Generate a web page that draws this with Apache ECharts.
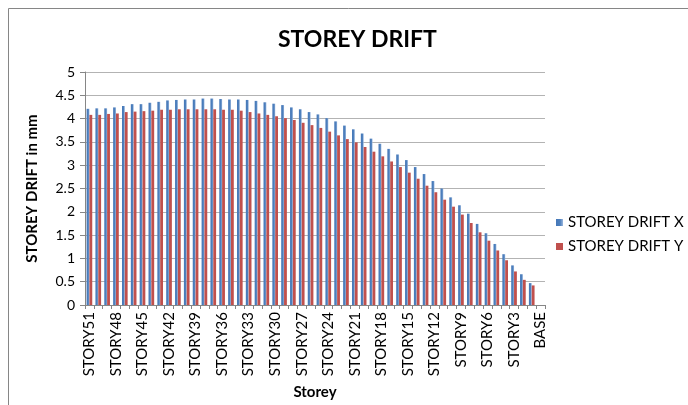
<!DOCTYPE html>
<html>
<head>
<meta charset="utf-8">
<script src="https://cdn.jsdelivr.net/npm/echarts@6/dist/echarts.min.js"></script>
<style>
	html, body { margin: 0; padding: 0; background: #fff; }
	#chart { width: 688px; height: 405px; }
</style>
</head>
<body>
<div id="chart"></div>
<script>
	// storeys, top to bottom
	const storeys = [
		'STORY51', 'STORY50', 'STORY49', 'STORY48', 'STORY47', 'STORY46', 'STORY45', 'STORY44', 'STORY43',
		'STORY42', 'STORY41', 'STORY40', 'STORY39', 'STORY38', 'STORY37', 'STORY36', 'STORY35', 'STORY34',
		'STORY33', 'STORY32', 'STORY31', 'STORY30', 'STORY29', 'STORY28', 'STORY27', 'STORY26', 'STORY25',
		'STORY24', 'STORY23', 'STORY22', 'STORY21', 'STORY20', 'STORY19', 'STORY18', 'STORY17', 'STORY16',
		'STORY15', 'STORY14', 'STORY13', 'STORY12', 'STORY11', 'STORY10', 'STORY9', 'STORY8', 'STORY7',
		'STORY6', 'STORY5', 'STORY4', 'STORY3', 'STORY2', 'STORY1', 'BASE'
	];
	const driftX = [
		4.21, 4.22, 4.22, 4.24, 4.27, 4.31, 4.31, 4.34, 4.36, 4.39, 4.40, 4.41, 4.41, 4.43, 4.43, 4.42, 4.41,
		4.41, 4.40, 4.38, 4.35, 4.32, 4.29, 4.24, 4.20, 4.14, 4.09, 4.01, 3.94, 3.85, 3.77, 3.68, 3.57, 3.46,
		3.35, 3.23, 3.11, 2.96, 2.81, 2.66, 2.50, 2.31, 2.14, 1.96, 1.74, 1.54, 1.31, 1.09, 0.85, 0.66, 0.47, 0
	];
	const driftY = [
		4.08, 4.08, 4.10, 4.11, 4.14, 4.15, 4.16, 4.17, 4.19, 4.19, 4.20, 4.20, 4.20, 4.20, 4.20, 4.19, 4.19,
		4.17, 4.14, 4.11, 4.08, 4.05, 4.01, 3.97, 3.91, 3.86, 3.80, 3.72, 3.64, 3.56, 3.49, 3.39, 3.29, 3.19,
		3.08, 2.96, 2.84, 2.71, 2.56, 2.42, 2.26, 2.11, 1.94, 1.76, 1.56, 1.38, 1.17, 0.96, 0.72, 0.54, 0.42, 0
	];

	const font = 'Lato, "Open Sans", sans-serif';
	const chart = echarts.init(document.getElementById('chart'));

	chart.setOption({
		animation: false,
		textStyle: { fontFamily: font },
		title: {
			text: 'STOREY DRIFT',
			left: 273,
			top: 23,
			textStyle: { fontSize: 23, fontWeight: 'bold', color: '#000', fontFamily: font }
		},
		graphic: [{
			type: 'rect',
			shape: { x: 8.5, y: 8.5, width: 700, height: 420 },
			style: { fill: 'none', stroke: '#868686', lineWidth: 1 },
			silent: true
		}],
		legend: {
			orient: 'vertical',
			left: 551,
			top: 210,
			itemWidth: 7,
			itemHeight: 7,
			itemGap: 9,
			itemStyle: { borderWidth: 0 },
			icon: 'rect',
			textStyle: { fontSize: 15, color: '#000', fontFamily: font },
			data: ['STOREY DRIFT X', 'STOREY DRIFT Y']
		},
		grid: { left: 85, right: 143, top: 72, bottom: 100 },
		xAxis: {
			type: 'category',
			data: storeys,
			name: 'Storey',
			nameLocation: 'middle',
			nameGap: 79,
			nameTextStyle: { fontSize: 15, fontWeight: 'bold', color: '#000', fontFamily: font },
			axisLine: { lineStyle: { color: '#868686' } },
			axisTick: { show: true, interval: 0, length: 4, lineStyle: { color: '#868686' } },
			axisLabel: { interval: 2, rotate: 90, fontSize: 15, color: '#000', margin: 7, fontFamily: font }
		},
		yAxis: {
			type: 'value',
			min: 0,
			max: 5,
			interval: 0.5,
			name: 'STOREY DRIFT in mm',
			nameLocation: 'middle',
			nameRotate: 90,
			nameGap: 45,
			nameTextStyle: { fontSize: 15, fontWeight: 'bold', color: '#000', fontFamily: font },
			axisLine: { show: true, lineStyle: { color: '#868686' } },
			axisTick: { show: true, length: 5, lineStyle: { color: '#868686' } },
			axisLabel: { fontSize: 14, color: '#000', margin: 10, fontFamily: font },
			splitLine: { lineStyle: { color: '#b3b3b3' } }
		},
		series: [
			{
				name: 'STOREY DRIFT X',
				type: 'bar',
				data: driftX,
				barGap: '0%',
				barCategoryGap: '36%',
				itemStyle: {
					color: new echarts.graphic.LinearGradient(0, 0, 1, 0, [
						{ offset: 0, color: '#4577B8' },
						{ offset: 0.6, color: '#4F81BD' },
						{ offset: 1, color: '#9AB6DE' }
					])
				}
			},
			{
				name: 'STOREY DRIFT Y',
				type: 'bar',
				data: driftY,
				itemStyle: { color: '#C0504D' }
			}
		]
	});
</script>
</body>
</html>
